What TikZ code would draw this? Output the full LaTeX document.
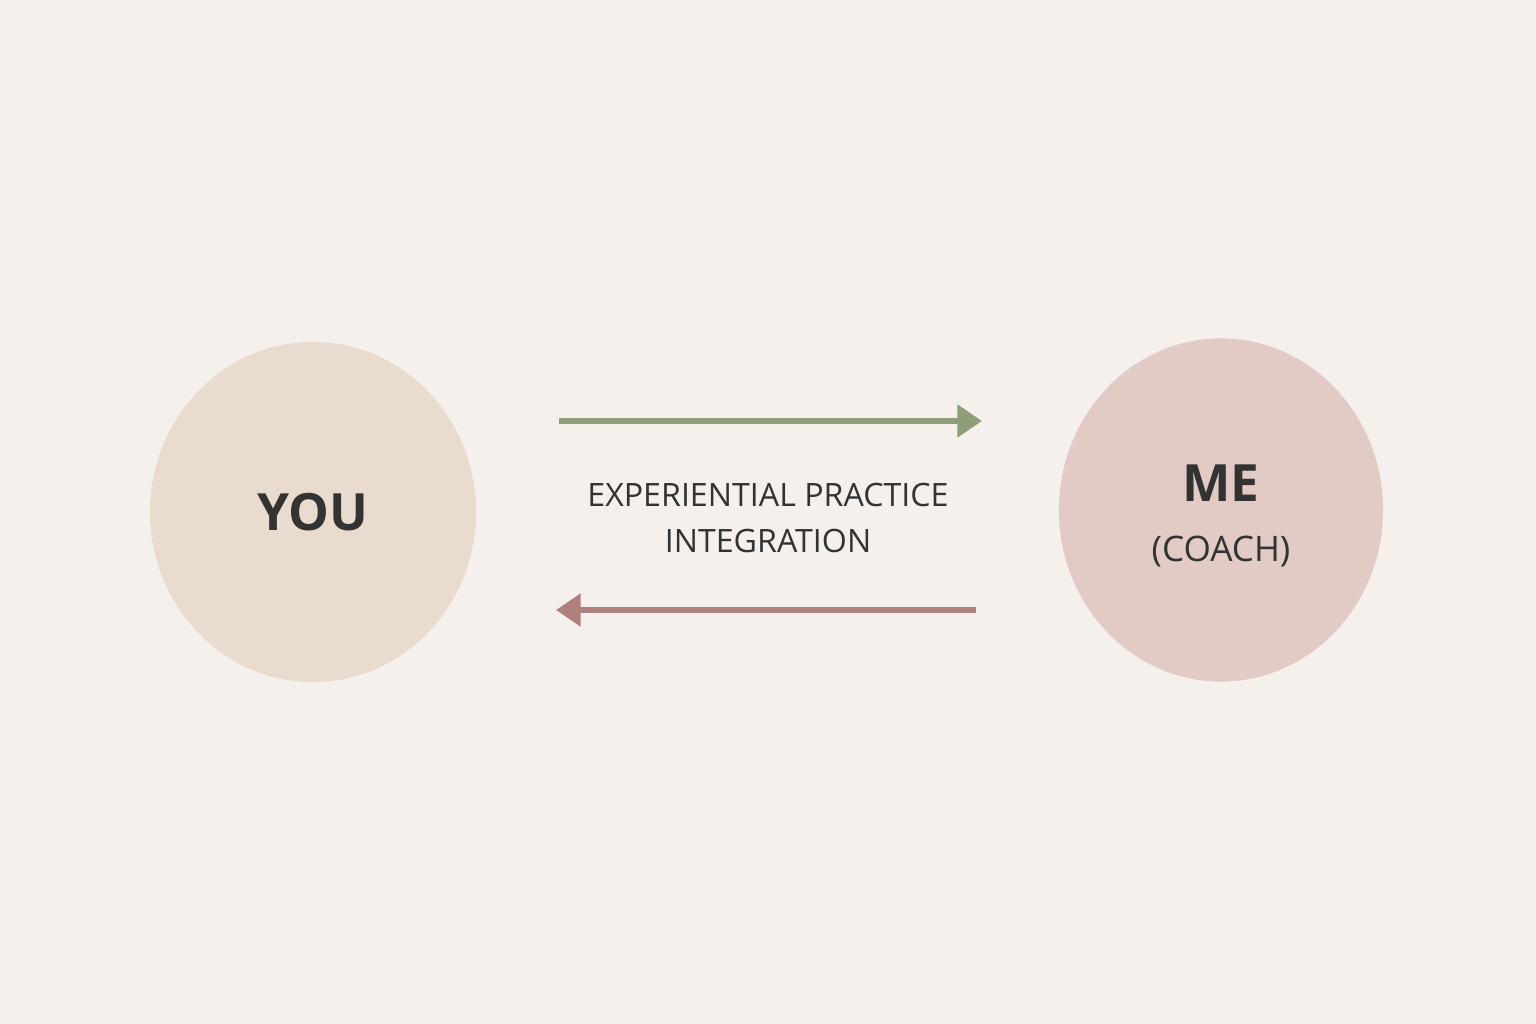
\documentclass[tikz,border=0pt]{standalone}
\usepackage{fontspec}
\setmainfont{Open Sans}
\usetikzlibrary{shapes.geometric,arrows.meta}
\definecolor{bgcream}{HTML}{F5F0EB}
\definecolor{youfill}{HTML}{E9DCCF}
\definecolor{mefill}{HTML}{E2CBC5}
\definecolor{givegreen}{HTML}{8E9E78}
\definecolor{backred}{HTML}{B07F7C}
\definecolor{inkgray}{HTML}{333333}
\tikzset{
  person/.style={ellipse,minimum width=3.26cm,minimum height=3.4cm,inner sep=0pt,text=inkgray,align=center},
  flow/.style={line width=1.7pt,-{Triangle[length=7pt,width=9pt]}},
  midtext/.style={text=inkgray,align=center,font=\fontsize{9.15}{13.1}\selectfont}
}
\begin{document}
\begin{tikzpicture}[x=0.01cm,y=-0.01cm]
\fill[bgcream] (0,0) rectangle (1536,1024);
\useasboundingbox (0,0) rectangle (1536,1024);
\node[person,fill=youfill,font=\fontsize{14.6}{18}\selectfont\bfseries] (you) at (313,512) {YOU};
\node[person,fill=mefill,minimum width=3.24cm,minimum height=3.43cm] (me) at (1221,510) {};
\node[text=inkgray,align=center] (metext) at (1221,516)
  {{\fontsize{14.6}{18}\selectfont\bfseries ME}\\[5pt]{\fontsize{10}{12}\selectfont (COACH)}};
\node[midtext] (practice) at (768,518) {EXPERIENTIAL PRACTICE\\INTEGRATION};
\coordinate (A) at (559,421);
\coordinate (B) at (982,421);
\coordinate (C) at (976,610);
\coordinate (D) at (556,610);
\draw[flow,givegreen] (A) -- (B);
\draw[flow,backred] (C) -- (D);
\end{tikzpicture}
\end{document}
